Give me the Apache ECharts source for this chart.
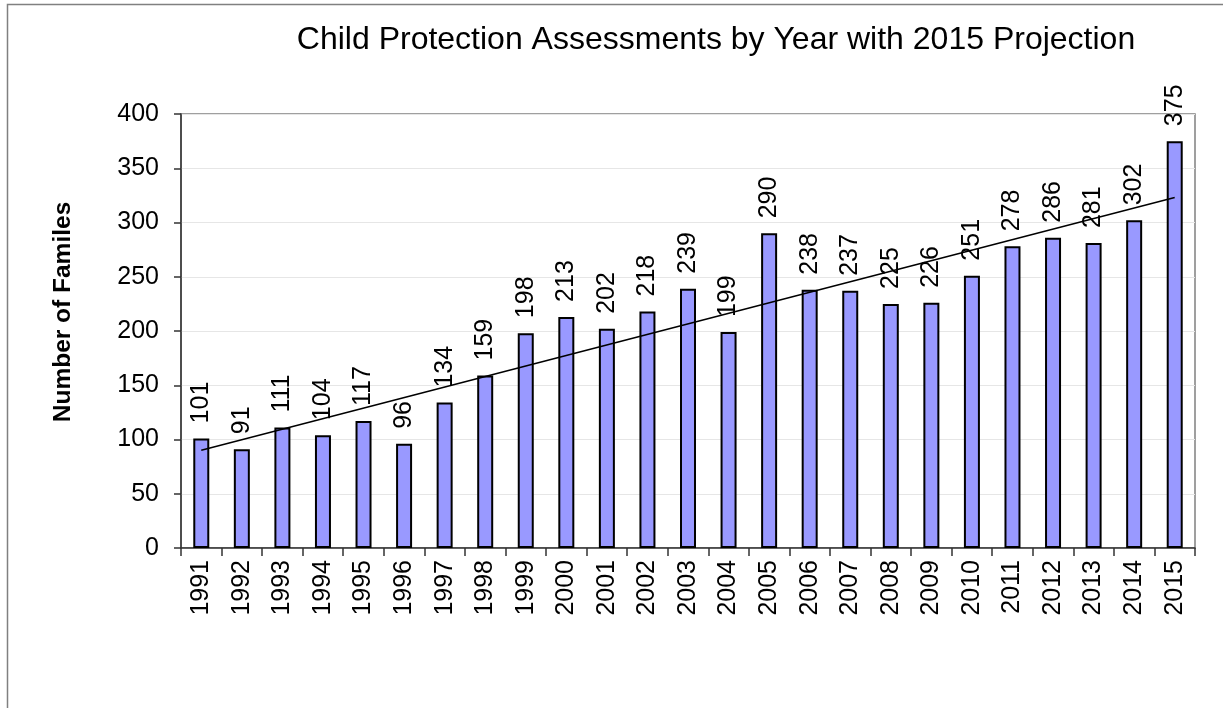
<!DOCTYPE html>
<html>
<head>
<meta charset="utf-8">
<script src="https://cdn.jsdelivr.net/npm/echarts@6/dist/echarts.min.js"></script>
<style>html,body{margin:0;padding:0;background:#fff}#c{width:1223px;height:708px}</style>
</head>
<body>
<div id="c"></div>
<script>
const titleText = 'Child Protection Assessments by Year with 2015 Projection';
const yAxisName = 'Number of Familes';
const years = ['1991','1992','1993','1994','1995','1996','1997','1998','1999','2000','2001','2002','2003','2004','2005','2006','2007','2008','2009','2010','2011','2012','2013','2014','2015'];
const families = [101,91,111,104,117,96,134,159,198,213,202,218,239,199,290,238,237,225,226,251,278,286,281,302,375];
const trendYears = ['1991','2015'];
const trendValues = [90,323];
const yTicks = [0,50,100,150,200,250,300,350,400];

const FONT = 'Liberation Sans, Arial, sans-serif';
const chart = echarts.init(document.getElementById('c'), null, {renderer:'canvas'});
chart.setOption({
  backgroundColor:'#fff',
  animation:false,
  title:{text:titleText,left:711,top:19,textAlign:'center',textStyle:{fontFamily:FONT,fontSize:32,fontWeight:'normal',color:'#000'}},
  graphic:[
    {type:'rect',shape:{x:7.5,y:4.5,width:1400,height:900},style:{fill:null,stroke:'#808080',lineWidth:1.5},silent:true},
    {type:'text',x:63,y:312,rotation:Math.PI/2,style:{text:yAxisName,fontFamily:FONT,fontSize:24.5,fontWeight:'bold',fill:'#000',align:'center',verticalAlign:'middle'},silent:true}
  ],
  grid:{left:181,top:114,width:1014,height:434,show:true,borderColor:'#808080',borderWidth:1.5,backgroundColor:'transparent'},
  xAxis:{type:'category',data:years,boundaryGap:true,
    axisLine:{lineStyle:{color:'#333',width:1.5}},
    axisTick:{show:true,alignWithLabel:false,length:8,lineStyle:{color:'#333',width:1.5}},
    axisLabel:{rotate:90,margin:12,fontFamily:FONT,fontSize:25,color:'#000',interval:0},
    splitLine:{show:false}},
  yAxis:{type:'value',min:yTicks[0],max:yTicks[yTicks.length-1],interval:50,
    axisLine:{show:true,lineStyle:{color:'#333',width:1.5}},
    axisTick:{show:true,length:7,lineStyle:{color:'#333',width:1.5}},
    axisLabel:{margin:22,fontFamily:FONT,fontSize:25,color:'#000'},
    splitLine:{show:true,lineStyle:{color:'#e6e6e6',width:1}}},
  series:[
    {type:'bar',data:families,barWidth:16,
      itemStyle:{color:'#9999ff',borderColor:'#000',borderWidth:2},
      label:{show:true,position:'top',rotate:90,align:'left',verticalAlign:'middle',distance:15,fontFamily:FONT,fontSize:25,color:'#000'},
      z:2},
    {type:'line',data:trendYears.map((y,i)=>[y,trendValues[i]]),symbol:'none',
      lineStyle:{color:'#000',width:1.5},z:3,silent:true}
  ]
});
</script>
</body>
</html>
